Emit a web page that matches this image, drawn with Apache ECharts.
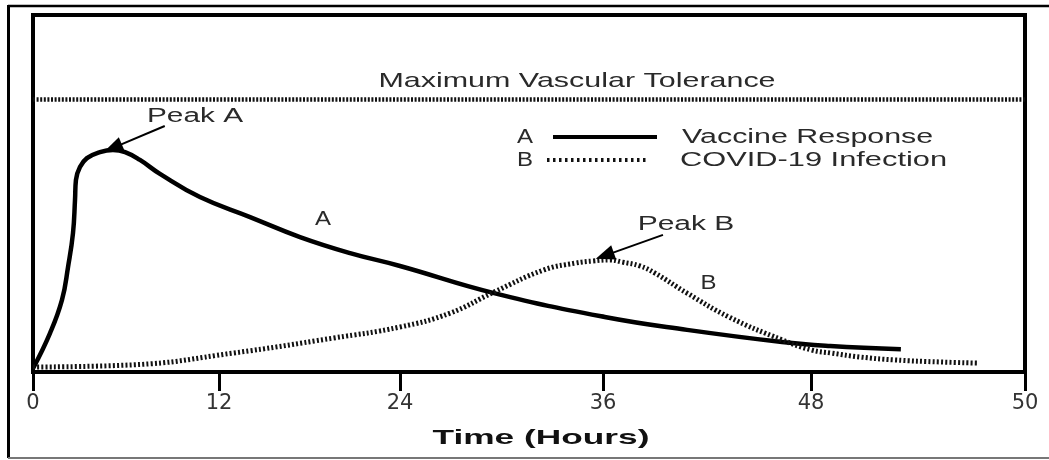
<!DOCTYPE html>
<html>
<head>
<meta charset="utf-8">
<script src="https://cdn.jsdelivr.net/npm/echarts@6/dist/echarts.min.js"></script>
<style>
  html, body { margin: 0; padding: 0; background: #fff; }
  #chart { width: 1049px; height: 460px; }
</style>
</head>
<body>
<div id="chart"></div>
<script>
// ---- data ----
const xTickLabels = [0, 12, 24, 36, 48, 50];               // hours shown on the axis
const vaccineHours = [0, 1.10, 1.87, 2.26, 2.58, 2.71, 2.77, 3.03, 3.48, 4.32, 5.16, 5.94, 6.90, 8.19, 10.77, 14.06, 17.37, 20.69, 24, 29.56, 36.1, 40.85, 46.33, 48.18, 48.84];
const vaccineLevel = [1, 10.9, 20.2, 29.4, 38.9, 48.2, 53.8, 57.4, 59.9, 61.6, 62.2, 61.6, 59.4, 55.5, 49.0, 43.4, 37.8, 33.3, 29.7, 22.1, 15.4, 11.8, 8.4, 7.3, 6.4];
const covidHours = [0, 6.45, 12.93, 19.56, 24, 26.96, 29.56, 32.51, 34.35, 35.41, 36.4, 37.1, 38.13, 39.0, 40.85, 43.27, 46.33, 48, 48.19, 48.46, 48.77, 49.21, 49.57];
const covidLevel = [1.4, 2.0, 5.3, 9.5, 12.6, 16.5, 22.4, 28.6, 30.5, 31.1, 31.4, 30.8, 29.7, 27.7, 22.1, 15.4, 9.0, 6.2, 5.3, 4.2, 3.4, 2.8, 2.5];
const toleranceLevel = 76.5;
const peakAFrom = [8.5, 68.9], peakATo = [5.16, 62.8];
const peakBFrom = [39.46, 38.4], peakBTo = [36.1, 32.6];

// ---- layout: the schematic axis has uneven tick spacing ----
const xTickSpan = [0, 186, 367, 570, 778, 992];
function warp(h) {
  for (let i = 1; i < xTickLabels.length; i++) {
    if (h <= xTickLabels[i] || i === xTickLabels.length - 1) {
      const a = xTickLabels[i - 1], b = xTickLabels[i];
      return xTickSpan[i - 1] + (h - a) / (b - a) * (xTickSpan[i] - xTickSpan[i - 1]);
    }
  }
}
const pts = (xs, ys) => xs.map((h, i) => [warp(h), ys[i]]);

const FONT = '"Liberation Sans", Arial, sans-serif';
function txt(text, x, y, size, scaleX, align, opts) {
  opts = opts || {};
  return {
    type: 'text', x: x, y: y, scaleX: scaleX, originX: 0, originY: 0, silent: true,
    style: {
      text: text, fontSize: size, fontFamily: FONT, fontWeight: opts.bold ? 'bold' : 'normal',
      fill: opts.color || '#2a2a2a', align: align || 'center', verticalAlign: 'middle'
    }
  };
}
function ln(x1, y1, x2, y2, w, color, dash) {
  return {
    type: 'line', silent: true,
    shape: { x1: x1, y1: y1, x2: x2, y2: y2 },
    style: { stroke: color, lineWidth: w, lineDash: dash || null }
  };
}

const chart = echarts.init(document.getElementById('chart'), null, { renderer: 'canvas' });
chart.setOption({
  animation: false,
  backgroundColor: '#fff',
  grid: { left: 33, right: 24, top: 15, bottom: 88, show: true, borderColor: '#000', borderWidth: 4, backgroundColor: 'transparent' },
  xAxis: {
    type: 'value', min: 0, max: xTickSpan[xTickSpan.length - 1],
    splitLine: { show: false },
    axisLine: { show: true, lineStyle: { color: '#000', width: 4 } },
    axisTick: { show: true, customValues: xTickSpan, length: 19, lineStyle: { color: '#000', width: 3 } },
    axisLabel: {
      show: true, customValues: xTickSpan, margin: 21,
      fontFamily: '"DejaVu Sans", sans-serif', fontSize: 21, color: '#333',
      formatter: function (v) {
        let best = 0;
        xTickSpan.forEach((s, i) => { if (Math.abs(s - v) < Math.abs(xTickSpan[best] - v)) best = i; });
        return String(xTickLabels[best]);
      }
    }
  },
  yAxis: { type: 'value', min: 0, max: 100, show: false, splitLine: { show: false } },
  series: [
    {
      name: 'Vaccine Response', type: 'line', data: pts(vaccineHours, vaccineLevel),
      symbol: 'none', smooth: 0.45,
      lineStyle: { color: '#000', width: 4.5 },
      markLine: {
        silent: true, animation: false, symbol: ['none', 'triangle'], symbolSize: [15, 19],
        label: { show: false },
        lineStyle: { color: '#000', width: 2, type: 'solid' },
        data: [
          [{ coord: [warp(peakAFrom[0]), peakAFrom[1]] }, { coord: [warp(peakATo[0]), peakATo[1]] }],
          [{ coord: [warp(peakBFrom[0]), peakBFrom[1]] }, { coord: [warp(peakBTo[0]), peakBTo[1]] }]
        ]
      }
    },
    {
      name: 'COVID-19 Infection', type: 'line', data: pts(covidHours, covidLevel),
      symbol: 'none', smooth: 0.45,
      lineStyle: { color: '#111', width: 5, type: [2, 2.2] },
      markLine: {
        silent: true, animation: false, symbol: ['none', 'none'],
        label: { show: false },
        lineStyle: { color: '#111', width: 4.5, type: [2, 1.6] },
        data: [{ yAxis: toleranceLevel }]
      }
    }
  ],
  graphic: [
    // outer frame
    ln(8.5, 5, 8.5, 458, 3, '#000'),
    ln(8, 6, 1049, 6, 2.5, '#000'),
    ln(8, 458, 1049, 458, 2, '#777'),
    // annotations
    txt('Maximum Vascular Tolerance', 577, 81, 21, 1.45),
    txt('Peak A', 195, 116, 20, 1.49),
    txt('Peak B', 686, 224, 20, 1.5),
    txt('A', 323, 219.5, 20, 1.2),
    txt('B', 708.5, 283.5, 20, 1.2),
    // legend
    txt('A', 525, 137, 20, 1.2),
    txt('B', 525, 160.5, 20, 1.2),
    ln(553, 137, 657, 137, 4, '#000'),
    ln(547, 160, 647, 160, 4, '#111', [2.5, 3.5]),
    txt('Vaccine Response', 682, 137, 20, 1.52, 'left'),
    txt('COVID-19 Infection', 680, 160.5, 20, 1.54, 'left'),
    // axis title
    txt('Time (Hours)', 541, 438, 21, 1.68, 'center', { bold: true, color: '#111' })
  ]
});
</script>
</body>
</html>
